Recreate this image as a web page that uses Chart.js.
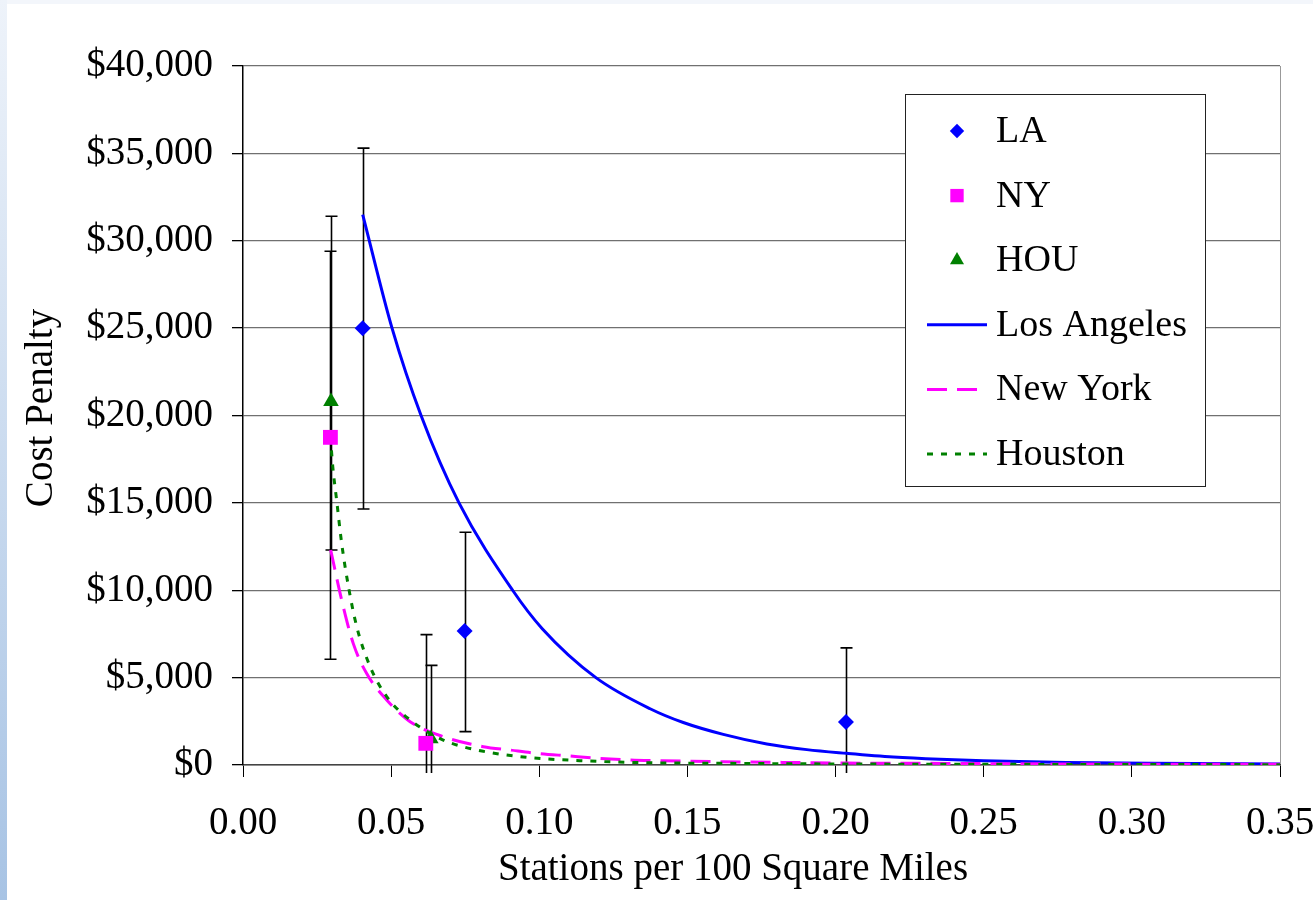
<!DOCTYPE html>
<html>
<head>
<meta charset="utf-8">
<script src="https://cdn.jsdelivr.net/npm/chart.js@4.4.1/dist/chart.umd.min.js"></script>
<style>
  html, body { margin: 0; padding: 0; background: #fff; }
  #wrap { position: relative; width: 1313px; height: 900px; overflow: hidden; background: #fff; }
  #edgeTop { position: absolute; left: 0; top: 0; width: 1313px; height: 4px; background: #f3f6fb; }
  #edgeLeft { position: absolute; left: 0; top: 0; width: 7px; height: 900px; background: linear-gradient(#eef3fa, #a7c3e4); }
  canvas { position: absolute; left: 0; top: 0; }
</style>
</head>
<body>
<div id="wrap">
  <div id="edgeTop"></div>
  <div id="edgeLeft"></div>
  <canvas id="chart" width="1313" height="900"></canvas>
</div>
<script>
// measured points (stations per 100 sq mi, cost penalty $)
var laX = [0.0404, 0.0748, 0.2035];
var laY = [25000, 7670, 2460];
var laHigh = [35300, 13320, 6700];
var laLow = [14650, 1910, -2000];

var nyX = [0.0295, 0.0617];
var nyY = [18750, 1240];
var nyHigh = [29400, 7460];
var nyLow = [6050, -2000];

var houX = [0.0297, 0.0634];
var houY = [20800, 1500];
var houHigh = [31400, 5700];
var houLow = [12300, -2000];

// fitted curves
var laCurveX = [0.0404, 0.0503, 0.0601, 0.0729, 0.0910, 0.1010, 0.1191, 0.1374, 0.1486, 0.1621, 0.1768, 0.1903, 0.2037, 0.2195, 0.2352, 0.2499, 0.2780, 0.3061, 0.35];
var laCurveY = [31500, 25000, 20000, 15000, 10000, 7800, 5000, 3220, 2430, 1750, 1200, 880, 670, 460, 330, 250, 150, 100, 60];

var nyCurveX = [0.0296, 0.0333, 0.0372, 0.0417, 0.0485, 0.0564, 0.0676, 0.0811, 0.0900, 0.0991, 0.1098, 0.1200, 0.1306, 0.1407, 0.1620, 0.1820, 0.2040, 0.2250, 0.2600, 0.3000, 0.35];
var nyCurveY = [12300, 9440, 6960, 5250, 3720, 2480, 1620, 1050, 860, 670, 520, 380, 290, 250, 190, 150, 110, 100, 70, 50, 40];

var houCurveX = [0.0295, 0.0303, 0.0316, 0.0333, 0.0356, 0.0384, 0.0429, 0.0485, 0.0564, 0.0676, 0.0789, 0.0957, 0.1137, 0.1360, 0.1590, 0.2000, 0.2500, 0.3000, 0.35];
var houCurveY = [18800, 17070, 15160, 12690, 10200, 7910, 5630, 3910, 2580, 1430, 860, 440, 250, 130, 100, 60, 40, 30, 20];

var xTitle = 'Stations per 100 Square Miles';
var yTitle = 'Cost Penalty';

var serif = '"Liberation Serif", "Times New Roman", serif';

function pts(xs, ys) {
  return xs.map(function (x, i) { return { x: x, y: ys[i] }; });
}

var errorBars = {
  id: 'errorBars',
  beforeDatasetsDraw: function (chart) {
    var ctx = chart.ctx, xs = chart.scales.x, ys = chart.scales.y, a = chart.chartArea;
    ctx.save();
    ctx.beginPath();
    ctx.rect(a.left, a.top - 10, a.right - a.left, a.bottom - a.top + 18);
    ctx.clip();
    ctx.strokeStyle = '#000';
    ctx.lineWidth = 1.6;
    chart.data.datasets.forEach(function (ds) {
      if (!ds.errHigh) return;
      ds.data.forEach(function (p, i) {
        var px = Math.round(xs.getPixelForValue(p.x)) + 0.5;
        var top = ys.getPixelForValue(ds.errHigh[i]);
        var bot = ys.getPixelForValue(ds.errLow[i]);
        ctx.beginPath();
        ctx.moveTo(px, top); ctx.lineTo(px, bot);
        ctx.moveTo(px - 6, top); ctx.lineTo(px + 6, top);
        ctx.moveTo(px - 6, bot); ctx.lineTo(px + 6, bot);
        ctx.stroke();
      });
    });
    ctx.restore();
  }
};

function marker(ctx, style, x, y, r) {
  ctx.beginPath();
  if (style === 'rectRot') {
    ctx.moveTo(x - r, y); ctx.lineTo(x, y - r); ctx.lineTo(x + r, y); ctx.lineTo(x, y + r);
  } else if (style === 'rect') {
    var s = r * Math.SQRT1_2;
    ctx.rect(x - s, y - s, 2 * s, 2 * s);
  } else {
    ctx.moveTo(x, y - r);
    ctx.lineTo(x + r * 0.866, y + r * 0.5);
    ctx.lineTo(x - r * 0.866, y + r * 0.5);
  }
  ctx.closePath();
  ctx.fill();
}

var boxLegend = {
  id: 'boxLegend',
  afterDraw: function (chart) {
    var ctx = chart.ctx;
    ctx.save();
    ctx.fillStyle = '#fff';
    ctx.fillRect(905, 94, 300, 392);
    ctx.strokeStyle = '#222';
    ctx.lineWidth = 1;
    ctx.strokeRect(905.5, 94.5, 300, 392);
    ctx.font = '38px ' + serif;
    ctx.textBaseline = 'middle';
    chart.data.datasets.forEach(function (ds, i) {
      var y = 131 + i * 64.6;
      if (ds.showLine) {
        ctx.beginPath();
        ctx.setLineDash(ds.borderDash || []);
        ctx.strokeStyle = ds.borderColor;
        ctx.lineWidth = ds.borderWidth;
        ctx.moveTo(927, y); ctx.lineTo(987, y);
        ctx.stroke();
        ctx.setLineDash([]);
      } else {
        ctx.fillStyle = ds.backgroundColor;
        marker(ctx, ds.pointStyle, 957, y, ds.pointRadius * 0.9);
      }
      ctx.fillStyle = '#000';
      ctx.fillText(ds.label, 996, y + 1);
    });
    // axis titles
    ctx.font = '39px ' + serif;
    ctx.textAlign = 'center';
    ctx.fillText(xTitle, 733, 870);
    ctx.translate(42, 408);
    ctx.rotate(-Math.PI / 2);
    ctx.fillText(yTitle, 0, 0);
    ctx.restore();
  }
};

var ctx = document.getElementById('chart');
var myChart = new Chart(ctx, {
  type: 'scatter',
  data: {
    datasets: [
      { label: 'LA', data: pts(laX, laY), errHigh: laHigh, errLow: laLow, pointStyle: 'rectRot', pointRadius: 8, backgroundColor: '#0000ff', borderColor: '#0000ff', pointBorderWidth: 0, showLine: false, order: 0 },
      { label: 'NY', data: pts(nyX, nyY), errHigh: nyHigh, errLow: nyLow, pointStyle: 'rect', pointRadius: 10.5, backgroundColor: '#ff00ff', borderColor: '#ff00ff', pointBorderWidth: 0, showLine: false, order: 0 },
      { label: 'HOU', data: pts(houX, houY), errHigh: houHigh, errLow: houLow, pointStyle: 'triangle', pointRadius: 9, backgroundColor: '#008000', borderColor: '#008000', pointBorderWidth: 0, showLine: false, order: 0 },
      { label: 'Los Angeles', data: pts(laCurveX, laCurveY), showLine: true, pointRadius: 0, borderColor: '#0000ff', borderWidth: 3, cubicInterpolationMode: 'monotone', order: 3 },
      { label: 'New York', data: pts(nyCurveX, nyCurveY), showLine: true, pointRadius: 0, borderColor: '#ff00ff', borderWidth: 3, borderDash: [20, 10], cubicInterpolationMode: 'monotone', order: 2 },
      { label: 'Houston', data: pts(houCurveX, houCurveY), showLine: true, pointRadius: 0, borderColor: '#008000', borderWidth: 3, borderDash: [6, 8], cubicInterpolationMode: 'monotone', order: 1 }
    ]
  },
  options: {
    responsive: false,
    animation: false,
    devicePixelRatio: 1,
    layout: { padding: { left: 0, right: 33, top: 66, bottom: 0 } },
    plugins: { legend: { display: false }, tooltip: { enabled: false } },
    scales: {
      x: {
        type: 'linear', min: 0, max: 0.35,
        afterFit: function (s) { s.height = 135; s.paddingLeft = 0; s.paddingRight = 0; },
        ticks: { stepSize: 0.05, color: '#000', padding: 23, font: { family: serif, size: 39 },
          callback: function (v) { return Number(v).toFixed(2); } },
        grid: { drawOnChartArea: true, tickLength: 12, tickColor: '#000',
          color: function (c) { return c.tick && Math.abs(c.tick.value - 0.35) < 1e-6 ? '#999' : 'rgba(0,0,0,0)'; } },
        border: { color: '#444', width: 1.5 }
      },
      y: {
        min: 0, max: 40000,
        afterFit: function (s) { s.width = 243; s.paddingTop = 0; s.paddingBottom = 0; },
        ticks: { stepSize: 5000, color: '#000', padding: 19, font: { family: serif, size: 39 },
          callback: function (v) { return '$' + Number(v).toLocaleString('en-US'); } },
        grid: { color: '#707070', lineWidth: 1.3, tickLength: 11, tickColor: '#000' },
        border: { color: '#000', width: 1.5 }
      }
    }
  },
  plugins: [errorBars, boxLegend]
});
</script>
</body>
</html>
